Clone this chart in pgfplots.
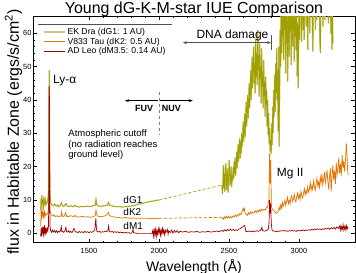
\documentclass[border=0pt]{standalone}
\usepackage{fontspec}
\setmainfont{Liberation Sans}
\usepackage{pgfplots}
\usepackage{pgfplotstable}
\pgfplotsset{compat=1.18}
\usetikzlibrary{arrows.meta}
\definecolor{olive1}{RGB}{160,160,0}
\definecolor{khaki1}{RGB}{205,200,120}
\definecolor{orange1}{RGB}{228,115,0}
\definecolor{dred}{RGB}{160,0,0}
\definecolor{agray}{RGB}{80,80,80}

\pgfplotstableread[row sep=\\]{x y\\ 1155 7\\ 1158 10.5\\ 1161 8\\ 1164 11.5\\ 1167 9\\ 1170 10\\ 1174 7\\ 1178 11\\ 1182 9\\ 1186 8.5\\ 1190 10\\ 1195 8.8\\ 1200 9\\ 1205 10\\ 1210 12\\ 1213 25\\ 1216 49\\ 1219 25\\ 1223 11\\ 1228 9\\ 1235 8.5\\ 1245 8.3\\ 1255 8.8\\ 1265 8.2\\ 1275 8.5\\ 1285 8.0\\ 1295 8.4\\ 1303 9.2\\ 1310 8.3\\ 1320 8.1\\ 1335 8.9\\ 1345 8.2\\ 1360 8.0\\ 1370 8.3\\ 1390 8.0\\ 1400 8.4\\ 1410 8.1\\ 1430 7.9\\ 1450 8.1\\ 1470 8.0\\ 1490 8.2\\ 1510 8.0\\ 1530 8.3\\ 1545 8.5\\ 1550 10.2\\ 1555 8.6\\ 1570 8.2\\ 1590 8.1\\ 1610 8.3\\ 1630 8.4\\ 1640 9.3\\ 1645 8.5\\ 1660 8.3\\ 1680 8.1\\ 1700 8.0\\ 1720 8.0\\ 1740 7.9\\ 1760 8.0\\ 1780 8.1\\ 1800 8.2\\ 1820 8.4\\ 1840 8.6\\ 1860 8.8\\ 1880 9.0\\ 1900 9.2\\ 1920 9.4\\ 1940 9.6\\ 1960 9.7\\ 1980 9.9\\ 2000 10.0\\}\gFUV

\pgfplotstableread[row sep=\\]{x y\\ 2450 14.5\\ 2453 11.8\\ 2457 16\\ 2460 20.5\\ 2463 13.5\\ 2466 17.8\\ 2470 12.5\\ 2473 18.2\\ 2477 21\\ 2480 15\\ 2484 13\\ 2487 19.5\\ 2491 16.2\\ 2494 12.2\\ 2498 17\\ 2501 22\\ 2505 18\\ 2508 14.5\\ 2512 16.5\\ 2515 20\\ 2519 13.8\\ 2522 17.5\\ 2526 15.8\\ 2530 19.8\\ 2533 16.5\\ 2537 21.5\\ 2540 18\\ 2544 22.8\\ 2547 17.2\\ 2551 20.3\\ 2555 24.5\\ 2558 19.5\\ 2562 23\\ 2565 26.8\\ 2569 21.5\\ 2572 25\\ 2576 28.5\\ 2580 22.5\\ 2583 27.5\\ 2587 24\\ 2590 30.2\\ 2594 26\\ 2598 29\\ 2601 33.5\\ 2605 27.5\\ 2608 31\\ 2612 36\\ 2615 28.8\\ 2619 34\\ 2622 39.5\\ 2626 32\\ 2630 37\\ 2633 41.5\\ 2637 34.5\\ 2640 38\\ 2644 45\\ 2647 37.5\\ 2651 42\\ 2655 49\\ 2658 40\\ 2662 46\\ 2665 53\\ 2669 43.5\\ 2672 50.5\\ 2676 56\\ 2680 45\\ 2683 51\\ 2687 42\\ 2690 58.5\\ 2694 47\\ 2698 54\\ 2701 44.5\\ 2705 61\\ 2708 49\\ 2712 53.5\\ 2715 41\\ 2719 57\\ 2722 46.5\\ 2726 50\\ 2730 39\\ 2733 55.5\\ 2737 44\\ 2740 48.5\\ 2744 37.5\\ 2748 52\\ 2751 41\\ 2755 45.5\\ 2758 35\\ 2762 47\\ 2765 38.5\\ 2769 43\\ 2772 32\\ 2776 40\\ 2780 29.5\\ 2783 36\\ 2787 27\\ 2790 31.5\\ 2794 24.5\\ 2798 28\\ 2801 23.8\\ 2805 33\\ 2808 26.5\\ 2812 38\\ 2815 30\\ 2819 43\\ 2822 35\\ 2826 47.5\\ 2830 36.5\\ 2833 51\\ 2837 42\\ 2840 55.5\\ 2844 40\\ 2848 49\\ 2851 30.5\\ 2855 56\\ 2858 26\\ 2862 44\\ 2865 61\\ 2869 50\\ 2872 66\\ 2876 54\\ 2880 71\\ 2883 59\\ 2887 68\\ 2890 52\\ 2894 74\\ 2898 61\\ 2901 66.5\\ 2905 48\\ 2908 70\\ 2912 57\\ 2916 73\\ 2919 45.5\\ 2923 62\\ 2926 69\\ 2930 53\\ 2933 76\\ 2937 60.5\\ 2941 67\\ 2944 50.5\\ 2948 72\\ 2951 63\\ 2955 56\\ 2958 78\\ 2962 64\\ 2966 51.5\\ 2969 69\\ 2973 59\\ 2976 74\\ 2980 55\\ 2984 66\\ 2987 47\\ 2991 63\\ 2994 43.5\\ 2998 60\\ 3001 71\\ 3005 58\\ 3009 77\\ 3012 65\\ 3016 70\\ 3019 57.5\\ 3023 81\\ 3027 67\\ 3030 61\\ 3034 75\\ 3037 58\\ 3041 79\\ 3045 68\\ 3048 72\\ 3052 62\\ 3055 84\\ 3059 69\\ 3063 55\\ 3066 77\\ 3070 66\\ 3073 80\\ 3077 60\\ 3081 74\\ 3084 85\\ 3088 67\\ 3091 78\\ 3095 63\\ 3099 54.5\\ 3102 72\\ 3106 81\\ 3109 68\\ 3113 76\\ 3117 61\\ 3120 83\\ 3124 70\\ 3127 64\\ 3131 79\\ 3135 72\\ 3138 86\\ 3142 66\\ 3145 77\\ 3149 58\\ 3153 54\\ 3156 71\\ 3160 80\\ 3163 67\\ 3167 75\\ 3171 62\\ 3174 82\\ 3178 69\\ 3181 77\\ 3185 64\\ 3189 88\\ 3192 73\\ 3196 66\\ 3199 79\\ 3203 70\\ 3207 84\\ 3210 63\\ 3214 76\\ 3217 68\\ 3221 81\\ 3225 72\\ 3228 60\\ 3232 74\\ 3235 55\\ 3239 66\\ 3242 57\\}\gNUV

\pgfplotstableread[row sep=\\]{x y\\ 1155 2\\ 1158 7\\ 1161 4\\ 1164 8\\ 1167 5\\ 1170 6.5\\ 1175 4.5\\ 1180 7\\ 1185 5\\ 1190 6\\ 1195 5.5\\ 1200 5.8\\ 1205 6\\ 1210 7\\ 1213 9\\ 1216 11\\ 1219 8\\ 1223 6.5\\ 1230 5.5\\ 1240 5.2\\ 1250 5.6\\ 1260 5.0\\ 1270 5.3\\ 1280 5.0\\ 1290 5.2\\ 1300 5.0\\ 1305 6.5\\ 1310 5.2\\ 1320 5.0\\ 1335 6.3\\ 1340 5.1\\ 1350 5.0\\ 1370 5.3\\ 1390 5.0\\ 1400 5.4\\ 1410 5.0\\ 1430 4.9\\ 1450 5.1\\ 1470 4.9\\ 1490 5.0\\ 1510 4.8\\ 1530 5.0\\ 1545 5.3\\ 1550 7.0\\ 1555 5.8\\ 1560 5.2\\ 1580 5.0\\ 1600 5.1\\ 1620 5.3\\ 1640 6.3\\ 1645 5.4\\ 1660 5.1\\ 1680 4.9\\ 1700 4.8\\ 1720 4.7\\ 1740 4.6\\ 1760 4.8\\ 1780 4.6\\ 1800 4.5\\ 1820 4.6\\ 1840 4.5\\ 1860 4.5\\ 1880 4.6\\ 1900 4.5\\ 1920 4.5\\ 1940 4.4\\ 1960 4.5\\ 1980 4.4\\ 2000 4.5\\}\kFUV

\pgfplotstableread[row sep=\\]{x y\\ 2450 4.8\\ 2458 4.2\\ 2466 5.0\\ 2474 4.4\\ 2482 5.1\\ 2490 4.6\\ 2498 5.2\\ 2506 4.5\\ 2514 5.0\\ 2522 4.7\\ 2530 5.3\\ 2538 4.9\\ 2546 5.5\\ 2554 5.0\\ 2562 5.6\\ 2570 5.3\\ 2578 6.0\\ 2586 5.6\\ 2594 6.6\\ 2600 7.6\\ 2605 6.8\\ 2610 7.4\\ 2615 6.0\\ 2623 5.8\\ 2631 5.4\\ 2639 6.2\\ 2647 5.7\\ 2655 6.5\\ 2663 6.0\\ 2671 6.4\\ 2679 6.1\\ 2687 6.8\\ 2695 6.2\\ 2703 6.9\\ 2711 6.5\\ 2719 7.1\\ 2727 6.6\\ 2735 7.3\\ 2743 6.9\\ 2751 7.2\\ 2759 7.0\\ 2767 7.7\\ 2775 7.9\\ 2785 10\\ 2790 24\\ 2795 15\\ 2798 22\\ 2803 8\\ 2810 7.2\\ 2820 6.8\\ 2830 6.3\\ 2840 6.0\\ 2850 6.5\\ 2858 7.8\\ 2864 7.0\\ 2870 8.6\\ 2876 7.6\\ 2882 9.3\\ 2888 8.1\\ 2894 8.8\\ 2900 10.0\\ 2906 8.4\\ 2912 9.6\\ 2918 10.8\\ 2924 9.0\\ 2930 9.9\\ 2936 8.8\\ 2942 10.6\\ 2948 11.4\\ 2954 9.6\\ 2960 10.3\\ 2966 11.8\\ 2972 10.1\\ 2978 9.4\\ 2984 11.2\\ 2990 12.1\\ 2996 10.4\\ 3002 11.6\\ 3008 10.2\\ 3014 12.6\\ 3020 11.3\\ 3026 10.6\\ 3032 12.0\\ 3038 13.4\\ 3044 11.5\\ 3050 12.8\\ 3056 11.9\\ 3062 14.0\\ 3068 12.4\\ 3074 13.1\\ 3080 15.2\\ 3086 12.9\\ 3092 14.4\\ 3098 13.2\\ 3104 15.8\\ 3110 14.1\\ 3116 13.0\\ 3122 15.0\\ 3128 16.6\\ 3134 14.2\\ 3140 15.4\\ 3146 13.8\\ 3152 16.9\\ 3158 15.1\\ 3164 17.8\\ 3170 14.6\\ 3176 16.3\\ 3182 18.4\\ 3188 15.2\\ 3194 17.0\\ 3200 19.0\\ 3206 15.6\\ 3212 13.2\\ 3218 16.8\\ 3224 19.6\\ 3230 12.5\\ 3236 17.4\\ 3242 20.4\\ 3248 16.0\\ 3254 18.8\\ 3260 14.8\\ 3266 21.2\\ 3272 17.6\\ 3278 19.4\\ 3284 22.6\\ 3290 18.0\\ 3296 20.8\\ 3302 17.2\\ 3308 23.5\\ 3314 19.6\\ 3320 21.8\\ 3326 18.5\\ 3332 22.0\\ 3338 27.0\\ 3343 24.0\\ 3347 19.0\\ 3352 17.5\\}\kNUV

\pgfplotstableread[row sep=\\]{x y\\ 1155 -1\\ 1158 1.5\\ 1161 -0.8\\ 1164 2\\ 1167 0\\ 1170 1.8\\ 1173 -1.2\\ 1176 1\\ 1179 0.2\\ 1182 2.5\\ 1185 0\\ 1188 1\\ 1191 -0.5\\ 1194 1.2\\ 1198 0.5\\ 1202 1.5\\ 1206 0.8\\ 1210 2\\ 1213 9\\ 1215 44\\ 1217 44\\ 1219 9\\ 1222 2\\ 1226 0.8\\ 1232 0.3\\ 1238 1.0\\ 1245 0.4\\ 1252 0.9\\ 1260 0.3\\ 1268 0.8\\ 1275 0.2\\ 1282 0.7\\ 1290 0.4\\ 1297 0.9\\ 1302 2.0\\ 1306 0.5\\ 1312 0.6\\ 1320 0.3\\ 1328 0.7\\ 1335 1.8\\ 1340 0.5\\ 1348 0.4\\ 1355 0.8\\ 1362 0.3\\ 1370 0.6\\ 1378 0.2\\ 1385 0.7\\ 1393 1.5\\ 1397 1.2\\ 1402 0.4\\ 1410 0.5\\ 1420 0.2\\ 1430 0.6\\ 1440 0.3\\ 1450 0.5\\ 1460 0.2\\ 1470 0.6\\ 1480 0.3\\ 1490 0.5\\ 1500 0.2\\ 1510 0.5\\ 1520 0.3\\ 1530 0.6\\ 1540 0.8\\ 1546 3.0\\ 1549 4.5\\ 1552 2.0\\ 1556 0.7\\ 1565 0.4\\ 1575 0.6\\ 1585 0.3\\ 1595 0.5\\ 1605 0.4\\ 1615 0.7\\ 1625 0.5\\ 1635 0.8\\ 1640 2.2\\ 1645 0.6\\ 1655 0.4\\ 1665 0.6\\ 1675 0.3\\ 1685 0.5\\ 1695 0.3\\ 1705 0.5\\ 1715 0.2\\ 1725 0.4\\ 1735 0.2\\ 1745 0.3\\ 1755 0.1\\ 1765 0.3\\ 1775 0.1\\ 1785 0.2\\ 1795 0.0\\ 1805 0.1\\ 1815 1.2\\ 1818 0.2\\ 1830 0.1\\ 1850 0.0\\ 1900 0.0\\ 1950 0.0\\ 1955 0.8\\ 1960 -0.8\\ 1965 1.5\\ 1970 -0.5\\ 1975 1.2\\ 1980 -1.0\\ 1985 0.9\\ 1990 -0.3\\ 1995 1.4\\ 2000 0.2\\ 2005 1.3\\ 2010 -0.6\\ 2015 1.0\\ 2020 -0.2\\ 2025 1.5\\ 2030 0.1\\ 2035 1.1\\ 2040 -0.4\\ 2045 0.9\\ 2050 0.3\\ 2060 1.2\\ 2065 -0.3\\ 2070 0.8\\ 2080 0.2\\ 2090 1.0\\ 2100 0.1\\ 2110 0.9\\ 2120 0.3\\ 2130 0.8\\ 2140 0.2\\ 2150 0.6\\ 2170 0.4\\ 2190 0.6\\ 2210 0.3\\ 2230 0.5\\ 2250 0.4\\ 2270 0.6\\ 2290 0.3\\ 2310 0.5\\ 2330 0.4\\ 2350 0.6\\ 2370 0.4\\ 2390 0.5\\ 2410 0.7\\ 2430 0.5\\ 2450 0.9\\ 2460 0.6\\ 2470 1.1\\ 2480 0.7\\ 2490 1.2\\ 2500 0.8\\ 2510 1.3\\ 2520 0.9\\ 2530 1.2\\ 2540 0.8\\ 2550 1.1\\ 2560 0.9\\ 2570 1.3\\ 2580 1.4\\ 2590 1.8\\ 2600 2.0\\ 2610 2.4\\ 2615 1.9\\ 2620 0.6\\ 2630 0.5\\ 2640 0.7\\ 2650 0.5\\ 2660 0.7\\ 2670 0.5\\ 2680 0.7\\ 2690 0.6\\ 2700 0.8\\ 2710 0.6\\ 2720 0.8\\ 2730 1.2\\ 2735 1.8\\ 2740 0.8\\ 2750 0.7\\ 2760 0.7\\ 2770 0.9\\ 2780 1.2\\ 2786 3\\ 2790 10\\ 2794 6\\ 2798 9\\ 2802 3\\ 2808 0.9\\ 2820 0.6\\ 2830 0.7\\ 2840 0.5\\ 2850 0.7\\ 2860 0.6\\ 2870 0.8\\ 2880 0.7\\ 2890 0.9\\ 2900 0.7\\ 2910 0.8\\ 2920 0.6\\ 2930 0.8\\ 2940 0.7\\ 2950 0.9\\ 2960 0.7\\ 2970 0.8\\ 2980 0.6\\ 2990 0.9\\ 3000 0.7\\ 3010 0.9\\ 3020 0.8\\ 3030 1.0\\ 3040 0.8\\ 3050 1.0\\ 3060 0.9\\ 3070 1.1\\ 3080 0.9\\ 3090 1.2\\ 3100 1.0\\ 3110 1.3\\ 3120 1.1\\ 3130 1.4\\ 3140 1.2\\ 3150 1.3\\ 3160 1.1\\ 3170 1.4\\ 3180 1.2\\ 3190 1.5\\ 3200 1.3\\ 3210 1.6\\ 3220 1.2\\ 3230 1.7\\ 3240 1.4\\ 3250 1.8\\ 3260 1.3\\ 3270 1.9\\ 3280 1.5\\ 3290 2.2\\ 3295 1.0\\ 3300 2.4\\ 3305 1.2\\ 3310 2.0\\ 3315 0.9\\ 3320 2.5\\ 3325 1.3\\ 3330 2.1\\ 3335 1.0\\ 3340 2.3\\ 3345 1.4\\ 3350 2.0\\}\mAll

\begin{document}
\begin{tikzpicture}
\path[use as bounding box] (-33bp,-30.3bp) rectangle (323bp,242.7bp);
\begin{axis}[
  scale only axis, width=322bp, height=226.7bp,
  xmin=1100, xmax=3400, ymin=-2.8, ymax=65.2,
  xtick={1500,2000,2500,3000}, minor x tick num=4,
  ytick={0,10,...,60}, minor y tick num=4,
  tick align=inside, major tick length=4bp, minor tick length=2bp,
  tick style={black, line width=0.5bp},
  axis line style={line width=0.6bp},
  /pgf/number format/assume math mode=true,
  /pgf/number format/1000 sep={},
  ticklabel style={font=\fontsize{7.5}{9}\selectfont},
  xticklabel style={inner sep=0pt, yshift=-5.8bp},
  yticklabel style={inner sep=0pt, xshift=-1.3bp},
  title={Young dG-K-M-star IUE Comparison},
  every axis title/.style={font=\fontsize{16}{18}\selectfont, at={(0.5,1)}, anchor=base, yshift=2.8bp},
  xlabel={Wavelength (Å)},
  xlabel style={font=\fontsize{14}{16}\selectfont, at={(axis description cs:0.5,-0.107)}, anchor=center},
  ylabel={flux in Habitable Zone (ergs/s/cm\textsuperscript{2})},
  ylabel style={font=\fontsize{16}{18}\selectfont, at={(axis description cs:-0.0606,0.488)}, anchor=center},
  legend style={at={(axis description cs:0.029,0.955)}, anchor=north west, draw=none, fill=none,
    font=\fontsize{8.7}{10}\selectfont, inner sep=0pt, row sep=-2.2bp},
  legend cell align=left,
  legend image code/.code={\draw[#1] (0bp,0bp) -- (21bp,0bp);},
]
% dG1
\addplot[khaki1, line width=1.2bp, forget plot] table[x=x,y=y] {\gFUV};
\addplot[olive1, line width=0.6bp, forget plot] table[x=x,y=y] {\gFUV};
\addplot[olive1, line width=0.7bp, dash pattern=on 3bp off 2bp, forget plot] coordinates {(2000,10.0) (2450,14.5)};
\addplot[khaki1, line width=1.4bp, forget plot] table[x=x,y=y] {\gNUV};
\addplot[olive1, line width=0.6bp, forget plot] table[x=x,y=y] {\gNUV};
% dK2
\addplot[orange1, line width=0.7bp, forget plot] table[x=x,y=y] {\kFUV};
\addplot[orange1, line width=0.7bp, dash pattern=on 3bp off 2bp, forget plot] coordinates {(2000,4.5) (2450,4.8)};
\addplot[orange1, line width=0.7bp, forget plot] table[x=x,y=y] {\kNUV};
% dM1
\addplot[dred, line width=0.7bp, forget plot] table[x=x,y=y] {\mAll};

\addlegendimage{khaki1, line width=2bp}
\addlegendentry{EK Dra (dG1: 1 AU)}
\addlegendimage{orange1, line width=0.8bp}
\addlegendentry{V833 Tau (dK2: 0.5 AU)}
\addlegendimage{dred, line width=0.8bp}
\addlegendentry{AD Leo (dM3.5: 0.14 AU)}

\draw[agray, line width=0.6bp] (axis cs:1136,62.7) -- (axis cs:2093,62.7);
\node[font=\fontsize{12}{14}\selectfont] at (axis cs:2525,59.5) {DNA damage};
\draw[{Stealth[length=4bp,width=3bp]}-{Stealth[length=4bp,width=3bp]}, agray, line width=0.6bp] (axis cs:2171,57.2) -- (axis cs:2800,57.2);
\draw[agray, line width=1bp] (axis cs:2800,55) -- (axis cs:2800,59.5);
\draw[gray, dashed, line width=0.6bp] (axis cs:2000,42.5) -- (axis cs:2000,29.5);
\draw[-{Stealth[length=4bp,width=3bp]}, line width=0.6bp] (axis cs:1990,39.8) -- (axis cs:1757,39.8);
\draw[-{Stealth[length=4bp,width=3bp]}, line width=0.6bp] (axis cs:2010,39.8) -- (axis cs:2241,39.8);
\node[font=\bfseries\fontsize{9}{11}\selectfont, anchor=east, inner sep=0pt] at (axis cs:1959,37.6) {FUV};
\node[font=\bfseries\fontsize{9}{11}\selectfont, anchor=west, inner sep=0pt] at (axis cs:2019,37.6) {NUV};
\node[font=\fontsize{9.5}{11}\selectfont, align=left, anchor=north west, inner sep=0pt] at (axis cs:1352,31.3) {Atmospheric cutoff\\(no radiation reaches\\ground level)};
\node[font=\fontsize{12}{14}\selectfont, anchor=west, inner sep=0pt] at (axis cs:1243,45.9) {Ly-α};
\node[font=\fontsize{10}{12}\selectfont, anchor=west, inner sep=0pt] at (axis cs:1745,10.1) {dG1};
\node[font=\fontsize{10}{12}\selectfont, anchor=west, inner sep=0pt] at (axis cs:1745,6.3) {dK2};
\node[font=\fontsize{10}{12}\selectfont, anchor=west, inner sep=0pt] at (axis cs:1745,2.2) {dM1};
\node[font=\fontsize{12}{14}\selectfont, anchor=west, inner sep=0pt] at (axis cs:2841,18) {Mg II};
\end{axis}
\end{tikzpicture}
\end{document}
